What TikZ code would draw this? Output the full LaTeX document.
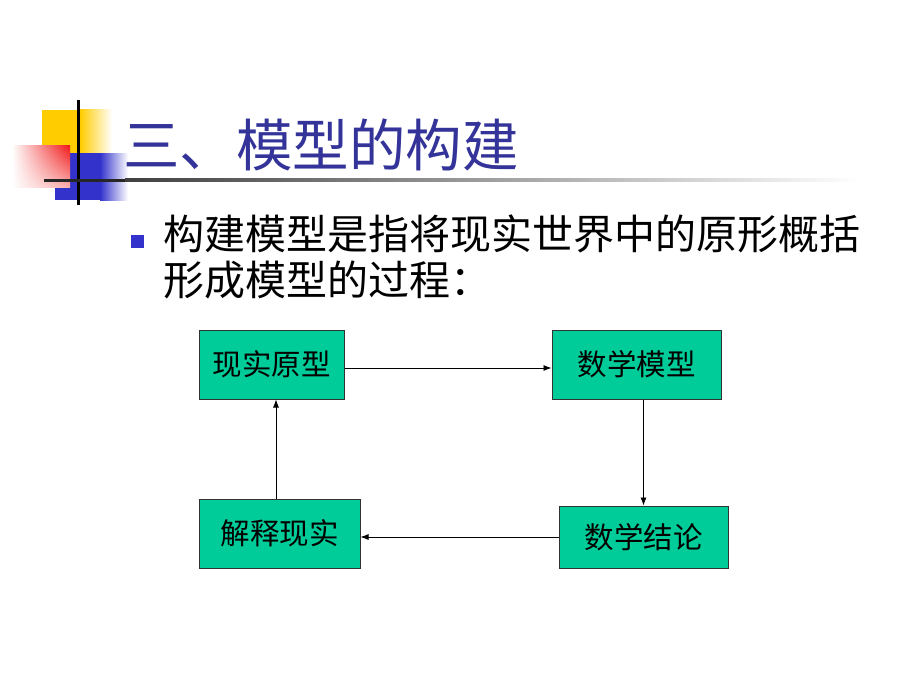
\documentclass[tikz,border=0pt]{standalone}
\usepackage{fontspec}
\usepackage{xcolor}
\usepackage{tikz}
\usetikzlibrary{arrows.meta,shadings}
\newfontfamily\cjk{Noto Sans CJK SC}
\definecolor{boxgreen}{RGB}{0,204,153}
\definecolor{titleblue}{RGB}{51,51,153}
\definecolor{bulletblue}{RGB}{51,51,204}
\definecolor{deckyellow}{RGB}{255,204,0}
\definecolor{deckred}{RGB}{240,20,20}
\tikzstyle{stage} = [rectangle, draw=black!80, line width=1pt, fill=boxgreen, inner sep=0pt,
minimum height=69pt, font=\cjk\fontsize{29.5}{29.5}\selectfont, text=black]
\tikzstyle{arrow} = [line width=0.8pt,->,>={Latex[length=8pt,width=6pt]}]

\begin{document}
\begin{tikzpicture}[x=1pt, y=-1pt]
        \useasboundingbox [fill=white] (0,0) rectangle (920,690);
        % corner decoration
        \fill [deckyellow] (42,110) rectangle (80,153);
        \shade [left color=deckyellow, right color=white] (80,110) rectangle (112,153);
        \fill [bulletblue] (55,153) rectangle (100,200);
        \shade [left color=bulletblue, right color=white] (100,153) rectangle (128,200);
        \shade [shading=bilinear interpolation, upper left=white, upper right=deckred, lower left=white, lower right=deckred!35] (12,145) rectangle (70,187);
        \fill [black] (76.5,100) rectangle (79.5,205);
        \fill [black!85] (44,178.5) rectangle (125,181.5);
        \shade [left color=black!75, right color=white] (125,178.5) rectangle (860,181.5);
        % title and text
        \node (title) [anchor=west, inner sep=0pt, text=titleblue, font=\cjk\fontsize{56.5}{56.5}\selectfont] at (123,145) {三、模型的构建};
        \fill [bulletblue] (131,235) rectangle (144,248) node (bullet) [coordinate] {};
        \node (intro) [anchor=north west, inner sep=0pt, align=left, font=\cjk\fontsize{41}{46}\selectfont] at (163,215) {构建模型是指将现实世界中的原形概括\\形成模型的过程：};
        % cycle
        \node (proto) [stage, minimum width=145pt] at (271.5,364.5) {现实原型};
        \node (model) [stage, minimum width=169pt] at (636.5,364.5) {数学模型};
        \node (concl) [stage, minimum width=169pt, minimum height=62pt] at (643.5,537) {数学结论};
        \node (interp) [stage, minimum width=161pt] at (279.5,533.5) {解释现实};
        \draw [arrow] ([yshift=-3.5pt]proto.east) -- ([yshift=-3.5pt]model.west);
        \draw [arrow] (model.south -| concl.north) -- (concl.north);
        \draw [arrow] (concl.west) -- (concl.west -| interp.east);
        \draw [arrow] ([xshift=-3.5pt]interp.north) -- ([xshift=4.5pt]proto.south);
    \end{tikzpicture}
\end{document}
